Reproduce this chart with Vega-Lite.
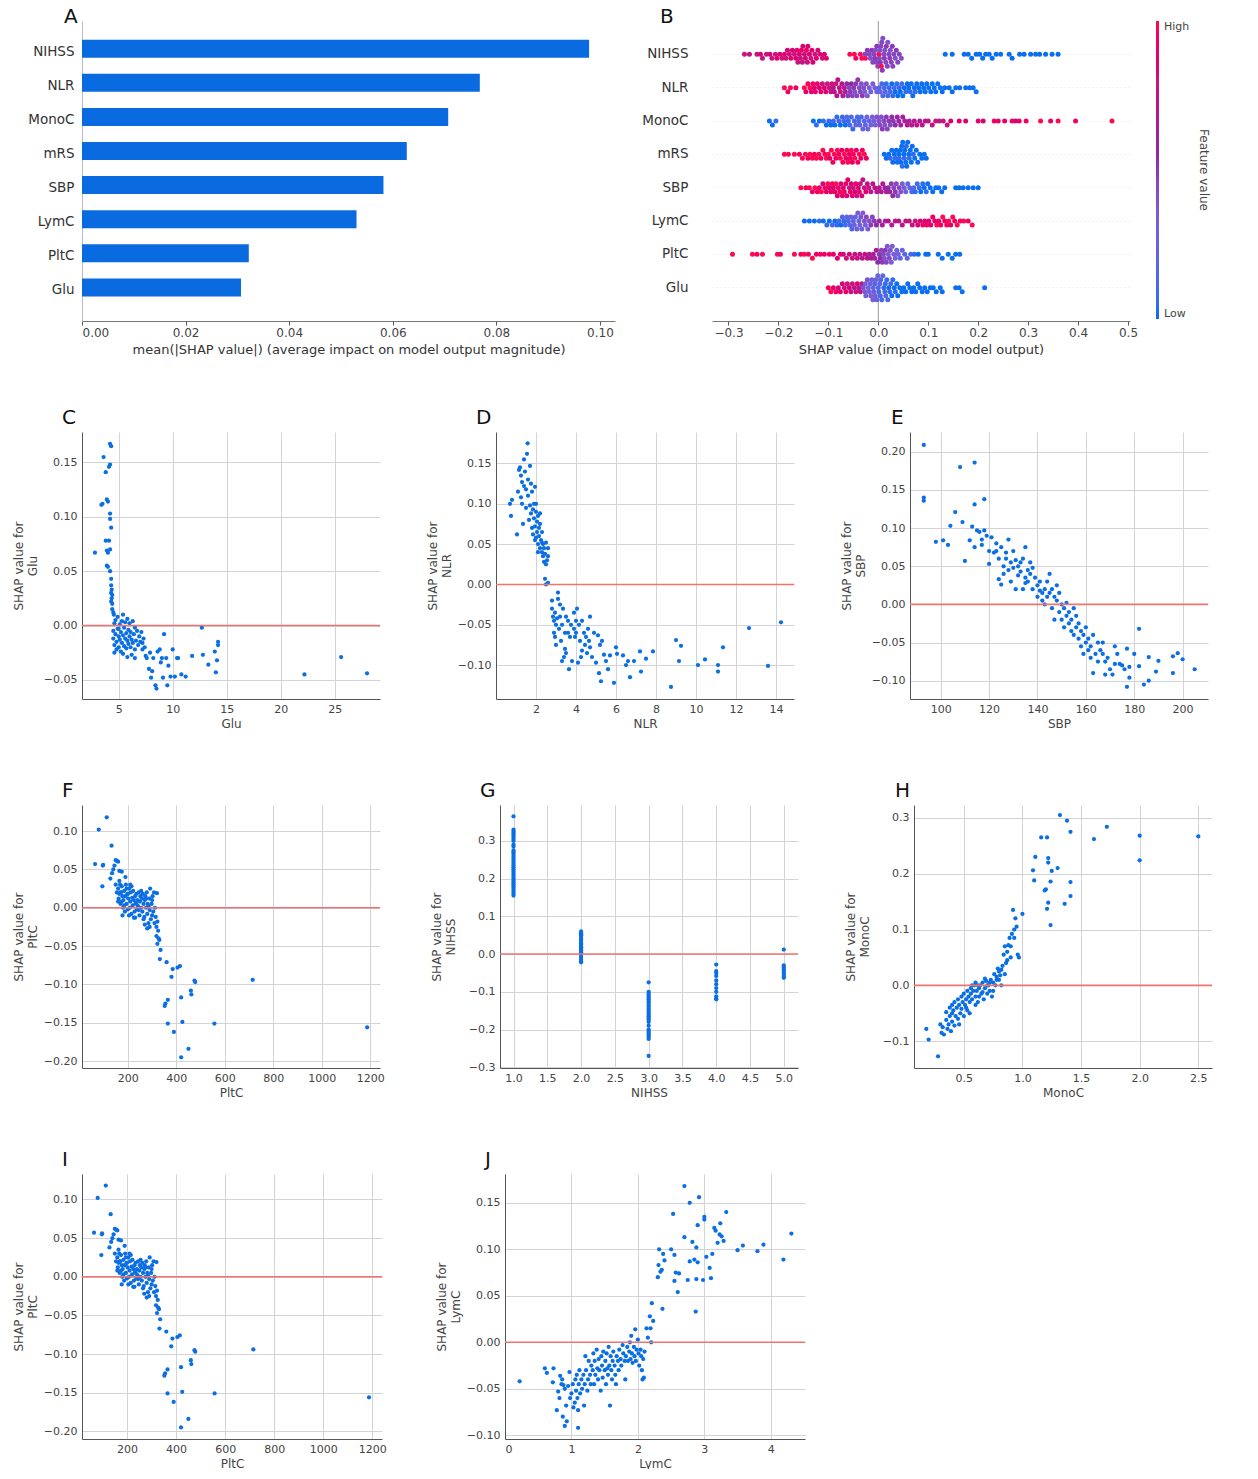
{
"$schema": "https://vega.github.io/schema/vega-lite/v6.json",
"background": "white",
"padding": {"left": 12, "top": 6, "right": 0, "bottom": 0},
"config": {
  "font": "DejaVu Sans",
  "view": {"stroke": null},
  "axis": {"labelFont": "DejaVu Sans", "titleFont": "DejaVu Sans", "labelColor": "#444", "titleColor": "#444", "titleFontWeight": "normal", "labelFontSize": 11, "titleFontSize": 12, "domainColor": "#555", "tickColor": "#555", "gridColor": "#d2d2da", "gridWidth": 1, "ticks": false, "labelPadding": 4, "titlePadding": 4},
  "title": {"fontSize": 20, "fontWeight": "normal", "color": "#111", "anchor": "start", "frame": "group", "font": "DejaVu Sans"},
  "legend": {"labelFont": "DejaVu Sans", "titleFont": "DejaVu Sans"}
},
"datasets": {
  "bars": [
    {"feature": "NIHSS", "value": 0.0979}, {"feature": "NLR", "value": 0.0768}, {"feature": "MonoC", "value": 0.0707}, {"feature": "mRS", "value": 0.0627},
    {"feature": "SBP", "value": 0.0582}, {"feature": "LymC", "value": 0.053}, {"feature": "PltC", "value": 0.0322}, {"feature": "Glu", "value": 0.0307}
  ],
  "swarm": [
    {"f":"NIHSS","s":-0.268,"v":0.8},{"f":"NIHSS","s":-0.258,"v":0.75},{"f":"NIHSS","s":-0.243,"v":0.8},{"f":"NIHSS","s":-0.236,"v":0.85},{"f":"NIHSS","s":-0.232,"v":0.8},{"f":"NIHSS","s":-0.224,"v":0.8},{"f":"NIHSS","s":-0.217,"v":0.85},{"f":"NIHSS","s":-0.213,"v":0.8},{"f":"NIHSS","s":-0.206,"v":0.8},{"f":"NIHSS","s":-0.203,"v":0.9},{"f":"NIHSS","s":-0.197,"v":0.85},{"f":"NIHSS","s":-0.193,"v":0.8},{"f":"NIHSS","s":-0.188,"v":0.9},{"f":"NIHSS","s":-0.185,"v":0.8},{"f":"NIHSS","s":-0.182,"v":0.85},{"f":"NIHSS","s":-0.178,"v":0.8},{"f":"NIHSS","s":-0.175,"v":0.9},{"f":"NIHSS","s":-0.172,"v":0.85},{"f":"NIHSS","s":-0.168,"v":0.8},{"f":"NIHSS","s":-0.165,"v":0.85},{"f":"NIHSS","s":-0.163,"v":0.9},{"f":"NIHSS","s":-0.161,"v":0.8},{"f":"NIHSS","s":-0.158,"v":0.85},{"f":"NIHSS","s":-0.156,"v":0.8},{"f":"NIHSS","s":-0.154,"v":0.9},{"f":"NIHSS","s":-0.152,"v":0.75},{"f":"NIHSS","s":-0.151,"v":0.85},{"f":"NIHSS","s":-0.148,"v":0.8},{"f":"NIHSS","s":-0.146,"v":0.85},{"f":"NIHSS","s":-0.144,"v":0.9},{"f":"NIHSS","s":-0.142,"v":0.8},{"f":"NIHSS","s":-0.141,"v":0.85},{"f":"NIHSS","s":-0.138,"v":0.85},{"f":"NIHSS","s":-0.135,"v":0.8},{"f":"NIHSS","s":-0.133,"v":0.9},{"f":"NIHSS","s":-0.131,"v":0.85},{"f":"NIHSS","s":-0.127,"v":0.8},{"f":"NIHSS","s":-0.124,"v":0.9},{"f":"NIHSS","s":-0.121,"v":0.85},{"f":"NIHSS","s":-0.117,"v":0.85},{"f":"NIHSS","s":-0.112,"v":0.8},{"f":"NIHSS","s":-0.108,"v":0.85},{"f":"NIHSS","s":-0.104,"v":0.9},
    {"f":"NIHSS","s":-0.057,"v":1},{"f":"NIHSS","s":-0.048,"v":1},{"f":"NIHSS","s":-0.045,"v":0.95},{"f":"NIHSS","s":-0.036,"v":1},{"f":"NIHSS","s":-0.033,"v":1},{"f":"NIHSS","s":-0.026,"v":1},
    {"f":"NIHSS","s":-0.027,"v":0.45},{"f":"NIHSS","s":-0.022,"v":0.5},{"f":"NIHSS","s":-0.018,"v":0.45},{"f":"NIHSS","s":-0.016,"v":0.4},{"f":"NIHSS","s":-0.013,"v":0.5},{"f":"NIHSS","s":-0.011,"v":0.45},{"f":"NIHSS","s":-0.009,"v":0.45},{"f":"NIHSS","s":-0.007,"v":0.5},{"f":"NIHSS","s":-0.006,"v":0.4},{"f":"NIHSS","s":-0.004,"v":0.45},{"f":"NIHSS","s":-0.003,"v":0.5},{"f":"NIHSS","s":-0.001,"v":0.45},{"f":"NIHSS","s":0.001,"v":1},{"f":"NIHSS","s":0.002,"v":0.45},{"f":"NIHSS","s":0.003,"v":0.4},{"f":"NIHSS","s":0.004,"v":0.5},{"f":"NIHSS","s":0.005,"v":0.45},{"f":"NIHSS","s":0.006,"v":1},{"f":"NIHSS","s":0.007,"v":0.45},{"f":"NIHSS","s":0.008,"v":0.5},{"f":"NIHSS","s":0.009,"v":0.4},{"f":"NIHSS","s":0.011,"v":0.45},{"f":"NIHSS","s":0.012,"v":0.5},{"f":"NIHSS","s":0.013,"v":0.4},{"f":"NIHSS","s":0.015,"v":0.45},{"f":"NIHSS","s":0.016,"v":0.5},{"f":"NIHSS","s":0.018,"v":0.45},{"f":"NIHSS","s":0.019,"v":0.4},{"f":"NIHSS","s":0.021,"v":0.45},{"f":"NIHSS","s":0.023,"v":0.5},{"f":"NIHSS","s":0.024,"v":0.4},{"f":"NIHSS","s":0.026,"v":0.45},{"f":"NIHSS","s":0.028,"v":0.5},{"f":"NIHSS","s":0.029,"v":0.45},{"f":"NIHSS","s":0.031,"v":0.45},{"f":"NIHSS","s":0.034,"v":0.4},{"f":"NIHSS","s":0.036,"v":0.5},{"f":"NIHSS","s":0.039,"v":0.45},{"f":"NIHSS","s":0.042,"v":0.45},{"f":"NIHSS","s":0.046,"v":0.4},
    {"f":"NIHSS","s":0.134,"v":0},{"f":"NIHSS","s":0.148,"v":0},{"f":"NIHSS","s":0.172,"v":0},{"f":"NIHSS","s":0.18,"v":0},{"f":"NIHSS","s":0.187,"v":0},{"f":"NIHSS","s":0.196,"v":0},{"f":"NIHSS","s":0.203,"v":0},{"f":"NIHSS","s":0.209,"v":0},{"f":"NIHSS","s":0.215,"v":0},{"f":"NIHSS","s":0.222,"v":0},{"f":"NIHSS","s":0.228,"v":0},{"f":"NIHSS","s":0.236,"v":0},{"f":"NIHSS","s":0.245,"v":0},{"f":"NIHSS","s":0.262,"v":0},{"f":"NIHSS","s":0.268,"v":0},{"f":"NIHSS","s":0.283,"v":0},{"f":"NIHSS","s":0.292,"v":0},{"f":"NIHSS","s":0.305,"v":0},{"f":"NIHSS","s":0.315,"v":0},{"f":"NIHSS","s":0.323,"v":0},{"f":"NIHSS","s":0.335,"v":0},{"f":"NIHSS","s":0.348,"v":0},{"f":"NIHSS","s":0.36,"v":0},
    {"f":"NLR","s":-0.188,"v":1},{"f":"NLR","s":-0.181,"v":0.95},{"f":"NLR","s":-0.176,"v":1},{"f":"NLR","s":-0.165,"v":0.95},{"f":"NLR","s":-0.148,"v":1},{"f":"NLR","s":-0.145,"v":0.9},{"f":"NLR","s":-0.141,"v":0.95},{"f":"NLR","s":-0.137,"v":1},{"f":"NLR","s":-0.134,"v":0.9},{"f":"NLR","s":-0.131,"v":0.95},{"f":"NLR","s":-0.128,"v":0.85},{"f":"NLR","s":-0.126,"v":0.9},{"f":"NLR","s":-0.122,"v":0.95},{"f":"NLR","s":-0.118,"v":0.85},{"f":"NLR","s":-0.115,"v":0.9},{"f":"NLR","s":-0.112,"v":0.8},{"f":"NLR","s":-0.108,"v":0.85},{"f":"NLR","s":-0.105,"v":0.9},{"f":"NLR","s":-0.102,"v":0.8},
    {"f":"NLR","s":-0.098,"v":0.8},{"f":"NLR","s":-0.095,"v":0.75},{"f":"NLR","s":-0.093,"v":0.8},{"f":"NLR","s":-0.09,"v":0.7},{"f":"NLR","s":-0.088,"v":0.75},{"f":"NLR","s":-0.085,"v":0.8},{"f":"NLR","s":-0.083,"v":0.7},{"f":"NLR","s":-0.081,"v":0.75},{"f":"NLR","s":-0.078,"v":0.7},{"f":"NLR","s":-0.076,"v":0.8},{"f":"NLR","s":-0.073,"v":0.7},{"f":"NLR","s":-0.071,"v":0.65},{"f":"NLR","s":-0.068,"v":0.7},{"f":"NLR","s":-0.066,"v":0.6},
    {"f":"NLR","s":-0.063,"v":0.55},{"f":"NLR","s":-0.061,"v":0.5},{"f":"NLR","s":-0.058,"v":0.45},{"f":"NLR","s":-0.056,"v":0.5},{"f":"NLR","s":-0.054,"v":0.55},{"f":"NLR","s":-0.052,"v":0.45},{"f":"NLR","s":-0.049,"v":0.5},{"f":"NLR","s":-0.047,"v":0.4},{"f":"NLR","s":-0.045,"v":0.5},{"f":"NLR","s":-0.043,"v":0.45},{"f":"NLR","s":-0.041,"v":0.5},{"f":"NLR","s":-0.038,"v":0.4},{"f":"NLR","s":-0.036,"v":0.45},{"f":"NLR","s":-0.034,"v":0.4},{"f":"NLR","s":-0.032,"v":0.5},{"f":"NLR","s":-0.029,"v":0.4},{"f":"NLR","s":-0.027,"v":0.35},{"f":"NLR","s":-0.024,"v":0.4},{"f":"NLR","s":-0.022,"v":0.35},{"f":"NLR","s":-0.018,"v":0.35},{"f":"NLR","s":-0.015,"v":0.3},{"f":"NLR","s":-0.011,"v":0.3},{"f":"NLR","s":-0.007,"v":0.3},{"f":"NLR","s":-0.003,"v":0.25},
    {"f":"NLR","s":0.002,"v":0.15},{"f":"NLR","s":0.004,"v":0.2},{"f":"NLR","s":0.007,"v":0.1},{"f":"NLR","s":0.009,"v":0.15},{"f":"NLR","s":0.012,"v":0.1},{"f":"NLR","s":0.014,"v":0.15},{"f":"NLR","s":0.016,"v":0.05},{"f":"NLR","s":0.019,"v":0.1},{"f":"NLR","s":0.022,"v":0.05},{"f":"NLR","s":0.024,"v":0.1},{"f":"NLR","s":0.027,"v":0},{"f":"NLR","s":0.029,"v":0.05},{"f":"NLR","s":0.032,"v":0.1},{"f":"NLR","s":0.034,"v":0},{"f":"NLR","s":0.037,"v":0.05},{"f":"NLR","s":0.039,"v":0},{"f":"NLR","s":0.042,"v":0.05},{"f":"NLR","s":0.044,"v":0},{"f":"NLR","s":0.047,"v":0.1},{"f":"NLR","s":0.049,"v":0},{"f":"NLR","s":0.052,"v":0},{"f":"NLR","s":0.055,"v":0.05},{"f":"NLR","s":0.058,"v":0},{"f":"NLR","s":0.061,"v":0},{"f":"NLR","s":0.064,"v":0.05},{"f":"NLR","s":0.066,"v":0},{"f":"NLR","s":0.069,"v":0},{"f":"NLR","s":0.072,"v":0},{"f":"NLR","s":0.074,"v":0.05},{"f":"NLR","s":0.077,"v":0},{"f":"NLR","s":0.081,"v":0},{"f":"NLR","s":0.084,"v":0},{"f":"NLR","s":0.087,"v":0},{"f":"NLR","s":0.091,"v":0},{"f":"NLR","s":0.094,"v":0},{"f":"NLR","s":0.097,"v":0},{"f":"NLR","s":0.101,"v":0},{"f":"NLR","s":0.105,"v":0},{"f":"NLR","s":0.108,"v":0},{"f":"NLR","s":0.112,"v":0},{"f":"NLR","s":0.115,"v":0},{"f":"NLR","s":0.119,"v":0},{"f":"NLR","s":0.124,"v":0},{"f":"NLR","s":0.128,"v":0},{"f":"NLR","s":0.133,"v":0},{"f":"NLR","s":0.142,"v":0},{"f":"NLR","s":0.148,"v":0},{"f":"NLR","s":0.155,"v":0},{"f":"NLR","s":0.163,"v":0},{"f":"NLR","s":0.175,"v":0},{"f":"NLR","s":0.183,"v":0},{"f":"NLR","s":0.19,"v":0},{"f":"NLR","s":0.196,"v":0},
    {"f":"MonoC","s":-0.218,"v":0},{"f":"MonoC","s":-0.212,"v":0},{"f":"MonoC","s":-0.205,"v":0.05},{"f":"MonoC","s":-0.13,"v":0},{"f":"MonoC","s":-0.124,"v":0.05},{"f":"MonoC","s":-0.118,"v":0},{"f":"MonoC","s":-0.11,"v":0.05},{"f":"MonoC","s":-0.104,"v":0},{"f":"MonoC","s":-0.099,"v":0.05},{"f":"MonoC","s":-0.095,"v":0},{"f":"MonoC","s":-0.09,"v":0.1},{"f":"MonoC","s":-0.087,"v":0},{"f":"MonoC","s":-0.083,"v":0.05},{"f":"MonoC","s":-0.079,"v":0.1},{"f":"MonoC","s":-0.076,"v":0},{"f":"MonoC","s":-0.072,"v":0.05},{"f":"MonoC","s":-0.069,"v":0.1},{"f":"MonoC","s":-0.066,"v":0},{"f":"MonoC","s":-0.063,"v":0.15},{"f":"MonoC","s":-0.06,"v":0.05},{"f":"MonoC","s":-0.057,"v":0.1},{"f":"MonoC","s":-0.054,"v":0.15},{"f":"MonoC","s":-0.051,"v":0.05},{"f":"MonoC","s":-0.048,"v":0.1},{"f":"MonoC","s":-0.045,"v":0.2},{"f":"MonoC","s":-0.042,"v":0.1},{"f":"MonoC","s":-0.039,"v":0.15},{"f":"MonoC","s":-0.037,"v":0.2},{"f":"MonoC","s":-0.034,"v":0.1},{"f":"MonoC","s":-0.031,"v":0.25},{"f":"MonoC","s":-0.028,"v":0.15},{"f":"MonoC","s":-0.026,"v":0.2},{"f":"MonoC","s":-0.023,"v":0.3},{"f":"MonoC","s":-0.021,"v":0.25},{"f":"MonoC","s":-0.018,"v":0.2},{"f":"MonoC","s":-0.015,"v":0.3},{"f":"MonoC","s":-0.012,"v":0.25},{"f":"MonoC","s":-0.009,"v":0.35},{"f":"MonoC","s":-0.006,"v":0.3},{"f":"MonoC","s":-0.003,"v":0.4},
    {"f":"MonoC","s":0.001,"v":0.4},{"f":"MonoC","s":0.003,"v":0.45},{"f":"MonoC","s":0.006,"v":0.4},{"f":"MonoC","s":0.008,"v":0.5},{"f":"MonoC","s":0.011,"v":0.45},{"f":"MonoC","s":0.013,"v":0.4},{"f":"MonoC","s":0.016,"v":0.5},{"f":"MonoC","s":0.018,"v":0.45},{"f":"MonoC","s":0.021,"v":0.5},{"f":"MonoC","s":0.024,"v":0.45},{"f":"MonoC","s":0.027,"v":0.55},{"f":"MonoC","s":0.03,"v":0.5},{"f":"MonoC","s":0.034,"v":0.55},{"f":"MonoC","s":0.038,"v":0.6},{"f":"MonoC","s":0.041,"v":0.55},{"f":"MonoC","s":0.045,"v":0.6},{"f":"MonoC","s":0.049,"v":0.65},
    {"f":"MonoC","s":0.053,"v":0.65},{"f":"MonoC","s":0.058,"v":0.7},{"f":"MonoC","s":0.062,"v":0.65},{"f":"MonoC","s":0.067,"v":0.7},{"f":"MonoC","s":0.072,"v":0.7},{"f":"MonoC","s":0.077,"v":0.75},{"f":"MonoC","s":0.083,"v":0.7},{"f":"MonoC","s":0.088,"v":0.75},{"f":"MonoC","s":0.094,"v":0.7},{"f":"MonoC","s":0.1,"v":0.75},{"f":"MonoC","s":0.108,"v":0.75},{"f":"MonoC","s":0.115,"v":0.8},{"f":"MonoC","s":0.122,"v":0.75},{"f":"MonoC","s":0.13,"v":0.8},{"f":"MonoC","s":0.138,"v":0.8},{"f":"MonoC","s":0.145,"v":0.85},
    {"f":"MonoC","s":0.162,"v":0.9},{"f":"MonoC","s":0.175,"v":0.85},{"f":"MonoC","s":0.2,"v":0.9},{"f":"MonoC","s":0.21,"v":0.85},{"f":"MonoC","s":0.232,"v":0.95},{"f":"MonoC","s":0.24,"v":0.9},{"f":"MonoC","s":0.253,"v":0.9},{"f":"MonoC","s":0.268,"v":0.95},{"f":"MonoC","s":0.275,"v":0.85},{"f":"MonoC","s":0.282,"v":0.9},{"f":"MonoC","s":0.296,"v":0.95},{"f":"MonoC","s":0.325,"v":1},{"f":"MonoC","s":0.345,"v":0.9},{"f":"MonoC","s":0.36,"v":1},{"f":"MonoC","s":0.395,"v":0.95},{"f":"MonoC","s":0.468,"v":1},
    {"f":"mRS","s":-0.188,"v":1},{"f":"mRS","s":-0.18,"v":1},{"f":"mRS","s":-0.168,"v":1},{"f":"mRS","s":-0.158,"v":0.95},{"f":"mRS","s":-0.152,"v":1},{"f":"mRS","s":-0.146,"v":1},{"f":"mRS","s":-0.141,"v":0.95},{"f":"mRS","s":-0.137,"v":1},{"f":"mRS","s":-0.132,"v":1},{"f":"mRS","s":-0.128,"v":0.95},{"f":"mRS","s":-0.124,"v":1},{"f":"mRS","s":-0.119,"v":1},{"f":"mRS","s":-0.115,"v":0.95},{"f":"mRS","s":-0.111,"v":1},{"f":"mRS","s":-0.107,"v":0.95},{"f":"mRS","s":-0.104,"v":1},{"f":"mRS","s":-0.1,"v":1},{"f":"mRS","s":-0.097,"v":0.9},{"f":"mRS","s":-0.094,"v":1},{"f":"mRS","s":-0.091,"v":0.95},{"f":"mRS","s":-0.088,"v":1},{"f":"mRS","s":-0.085,"v":0.9},{"f":"mRS","s":-0.082,"v":1},{"f":"mRS","s":-0.079,"v":0.95},{"f":"mRS","s":-0.076,"v":1},{"f":"mRS","s":-0.073,"v":0.9},{"f":"mRS","s":-0.071,"v":0.95},{"f":"mRS","s":-0.068,"v":1},{"f":"mRS","s":-0.065,"v":0.9},{"f":"mRS","s":-0.063,"v":0.95},{"f":"mRS","s":-0.061,"v":1},{"f":"mRS","s":-0.058,"v":0.9},{"f":"mRS","s":-0.056,"v":0.95},{"f":"mRS","s":-0.054,"v":1},{"f":"mRS","s":-0.052,"v":0.9},{"f":"mRS","s":-0.05,"v":0.95},{"f":"mRS","s":-0.047,"v":1},{"f":"mRS","s":-0.044,"v":0.9},{"f":"mRS","s":-0.041,"v":0.95},{"f":"mRS","s":-0.038,"v":1},{"f":"mRS","s":-0.035,"v":0.9},{"f":"mRS","s":-0.032,"v":0.95},{"f":"mRS","s":-0.028,"v":1},{"f":"mRS","s":-0.024,"v":0.9},
    {"f":"mRS","s":0.012,"v":0},{"f":"mRS","s":0.016,"v":0},{"f":"mRS","s":0.021,"v":0},{"f":"mRS","s":0.024,"v":0.05},{"f":"mRS","s":0.027,"v":0},{"f":"mRS","s":0.029,"v":0},{"f":"mRS","s":0.032,"v":0},{"f":"mRS","s":0.034,"v":0.05},{"f":"mRS","s":0.036,"v":0},{"f":"mRS","s":0.038,"v":0},{"f":"mRS","s":0.041,"v":0},{"f":"mRS","s":0.042,"v":0.05},{"f":"mRS","s":0.044,"v":0},{"f":"mRS","s":0.045,"v":0},{"f":"mRS","s":0.047,"v":0},{"f":"mRS","s":0.048,"v":0.05},{"f":"mRS","s":0.049,"v":0},{"f":"mRS","s":0.051,"v":0},{"f":"mRS","s":0.052,"v":0.05},{"f":"mRS","s":0.053,"v":0},{"f":"mRS","s":0.055,"v":0},{"f":"mRS","s":0.056,"v":0.05},{"f":"mRS","s":0.057,"v":0},{"f":"mRS","s":0.059,"v":0},{"f":"mRS","s":0.061,"v":0},{"f":"mRS","s":0.062,"v":0.05},{"f":"mRS","s":0.064,"v":0},{"f":"mRS","s":0.066,"v":0},{"f":"mRS","s":0.068,"v":0},{"f":"mRS","s":0.07,"v":0.05},{"f":"mRS","s":0.073,"v":0},{"f":"mRS","s":0.076,"v":0},{"f":"mRS","s":0.079,"v":0},{"f":"mRS","s":0.083,"v":0},{"f":"mRS","s":0.087,"v":0},{"f":"mRS","s":0.092,"v":0},{"f":"mRS","s":0.096,"v":0},
    {"f":"SBP","s":-0.155,"v":1},{"f":"SBP","s":-0.145,"v":0.95},{"f":"SBP","s":-0.138,"v":1},{"f":"SBP","s":-0.132,"v":0.9},{"f":"SBP","s":-0.127,"v":1},{"f":"SBP","s":-0.122,"v":0.95},{"f":"SBP","s":-0.118,"v":0.9},{"f":"SBP","s":-0.114,"v":1},{"f":"SBP","s":-0.111,"v":0.85},{"f":"SBP","s":-0.107,"v":0.95},{"f":"SBP","s":-0.104,"v":0.9},{"f":"SBP","s":-0.101,"v":1},{"f":"SBP","s":-0.098,"v":0.85},{"f":"SBP","s":-0.095,"v":0.9},{"f":"SBP","s":-0.092,"v":0.95},{"f":"SBP","s":-0.09,"v":0.85},{"f":"SBP","s":-0.087,"v":0.9},{"f":"SBP","s":-0.085,"v":1},{"f":"SBP","s":-0.082,"v":0.85},{"f":"SBP","s":-0.08,"v":0.9},{"f":"SBP","s":-0.077,"v":0.95},{"f":"SBP","s":-0.075,"v":0.85},{"f":"SBP","s":-0.072,"v":0.9},{"f":"SBP","s":-0.07,"v":0.85},{"f":"SBP","s":-0.068,"v":0.95},{"f":"SBP","s":-0.065,"v":0.9},{"f":"SBP","s":-0.063,"v":0.85},{"f":"SBP","s":-0.061,"v":0.9},{"f":"SBP","s":-0.058,"v":0.8},{"f":"SBP","s":-0.056,"v":0.9},{"f":"SBP","s":-0.054,"v":0.85},{"f":"SBP","s":-0.052,"v":0.9},{"f":"SBP","s":-0.05,"v":0.8},{"f":"SBP","s":-0.047,"v":0.85},{"f":"SBP","s":-0.045,"v":0.9},{"f":"SBP","s":-0.043,"v":0.8},{"f":"SBP","s":-0.04,"v":0.85},{"f":"SBP","s":-0.038,"v":0.9},{"f":"SBP","s":-0.036,"v":0.8},{"f":"SBP","s":-0.033,"v":0.85},{"f":"SBP","s":-0.031,"v":0.75},{"f":"SBP","s":-0.028,"v":0.8},{"f":"SBP","s":-0.025,"v":0.85},{"f":"SBP","s":-0.022,"v":0.75},{"f":"SBP","s":-0.019,"v":0.8},{"f":"SBP","s":-0.015,"v":0.75},{"f":"SBP","s":-0.011,"v":0.7},{"f":"SBP","s":-0.007,"v":0.75},{"f":"SBP","s":-0.003,"v":0.7},
    {"f":"SBP","s":0.002,"v":0.7},{"f":"SBP","s":0.006,"v":0.65},{"f":"SBP","s":0.009,"v":0.7},{"f":"SBP","s":0.013,"v":0.6},{"f":"SBP","s":0.016,"v":0.65},{"f":"SBP","s":0.02,"v":0.55},{"f":"SBP","s":0.023,"v":0.6},{"f":"SBP","s":0.026,"v":0.5},{"f":"SBP","s":0.029,"v":0.55},{"f":"SBP","s":0.031,"v":0.45},{"f":"SBP","s":0.034,"v":0.5},{"f":"SBP","s":0.036,"v":0.45},{"f":"SBP","s":0.039,"v":0.4},{"f":"SBP","s":0.042,"v":0.45},{"f":"SBP","s":0.045,"v":0.4},{"f":"SBP","s":0.048,"v":0.35},{"f":"SBP","s":0.052,"v":0.3},{"f":"SBP","s":0.055,"v":0.35},
    {"f":"SBP","s":0.059,"v":0.2},{"f":"SBP","s":0.063,"v":0.15},{"f":"SBP","s":0.067,"v":0.1},{"f":"SBP","s":0.071,"v":0.15},{"f":"SBP","s":0.074,"v":0.05},{"f":"SBP","s":0.078,"v":0.1},{"f":"SBP","s":0.082,"v":0.05},{"f":"SBP","s":0.085,"v":0},{"f":"SBP","s":0.089,"v":0.05},{"f":"SBP","s":0.092,"v":0},{"f":"SBP","s":0.096,"v":0.05},{"f":"SBP","s":0.099,"v":0},{"f":"SBP","s":0.104,"v":0},{"f":"SBP","s":0.109,"v":0},{"f":"SBP","s":0.115,"v":0},{"f":"SBP","s":0.121,"v":0},{"f":"SBP","s":0.127,"v":0},{"f":"SBP","s":0.133,"v":0},{"f":"SBP","s":0.155,"v":0},{"f":"SBP","s":0.162,"v":0},{"f":"SBP","s":0.17,"v":0},{"f":"SBP","s":0.18,"v":0},{"f":"SBP","s":0.19,"v":0},{"f":"SBP","s":0.2,"v":0},
    {"f":"LymC","s":-0.148,"v":0},{"f":"LymC","s":-0.138,"v":0},{"f":"LymC","s":-0.128,"v":0},{"f":"LymC","s":-0.118,"v":0.05},{"f":"LymC","s":-0.11,"v":0},{"f":"LymC","s":-0.103,"v":0.05},{"f":"LymC","s":-0.098,"v":0},{"f":"LymC","s":-0.092,"v":0.1},{"f":"LymC","s":-0.087,"v":0},{"f":"LymC","s":-0.083,"v":0.05},{"f":"LymC","s":-0.079,"v":0.1},{"f":"LymC","s":-0.075,"v":0},{"f":"LymC","s":-0.072,"v":0.15},{"f":"LymC","s":-0.069,"v":0.05},{"f":"LymC","s":-0.066,"v":0.1},{"f":"LymC","s":-0.063,"v":0.2},{"f":"LymC","s":-0.06,"v":0.1},{"f":"LymC","s":-0.057,"v":0.15},{"f":"LymC","s":-0.055,"v":0.25},{"f":"LymC","s":-0.053,"v":0.1},{"f":"LymC","s":-0.05,"v":0.2},{"f":"LymC","s":-0.048,"v":0.3},{"f":"LymC","s":-0.046,"v":0.15},{"f":"LymC","s":-0.043,"v":0.25},{"f":"LymC","s":-0.041,"v":0.35},{"f":"LymC","s":-0.039,"v":0.2},{"f":"LymC","s":-0.037,"v":0.3},{"f":"LymC","s":-0.035,"v":0.4},{"f":"LymC","s":-0.033,"v":0.25},{"f":"LymC","s":-0.031,"v":0.35},{"f":"LymC","s":-0.028,"v":0.4},{"f":"LymC","s":-0.026,"v":0.3},{"f":"LymC","s":-0.024,"v":0.45},{"f":"LymC","s":-0.021,"v":0.35},{"f":"LymC","s":-0.018,"v":0.4},{"f":"LymC","s":-0.015,"v":0.5},{"f":"LymC","s":-0.012,"v":0.45},{"f":"LymC","s":-0.008,"v":0.5},{"f":"LymC","s":-0.004,"v":0.55},
    {"f":"LymC","s":0.002,"v":0.6},{"f":"LymC","s":0.008,"v":0.65},{"f":"LymC","s":0.014,"v":0.6},{"f":"LymC","s":0.02,"v":0.7},{"f":"LymC","s":0.027,"v":0.65},{"f":"LymC","s":0.034,"v":0.7},{"f":"LymC","s":0.041,"v":0.75},{"f":"LymC","s":0.048,"v":0.7},{"f":"LymC","s":0.055,"v":0.75},{"f":"LymC","s":0.062,"v":0.8},{"f":"LymC","s":0.068,"v":0.75},{"f":"LymC","s":0.074,"v":0.8},{"f":"LymC","s":0.079,"v":0.85},
    {"f":"LymC","s":0.084,"v":0.85},{"f":"LymC","s":0.089,"v":0.9},{"f":"LymC","s":0.093,"v":0.85},{"f":"LymC","s":0.097,"v":0.95},{"f":"LymC","s":0.101,"v":0.9},{"f":"LymC","s":0.105,"v":0.85},{"f":"LymC","s":0.109,"v":0.95},{"f":"LymC","s":0.113,"v":0.9},{"f":"LymC","s":0.117,"v":1},{"f":"LymC","s":0.121,"v":0.9},{"f":"LymC","s":0.125,"v":0.95},{"f":"LymC","s":0.129,"v":1},{"f":"LymC","s":0.133,"v":0.9},{"f":"LymC","s":0.137,"v":0.95},{"f":"LymC","s":0.141,"v":1},{"f":"LymC","s":0.145,"v":0.9},{"f":"LymC","s":0.149,"v":1},{"f":"LymC","s":0.153,"v":0.95},{"f":"LymC","s":0.158,"v":1},{"f":"LymC","s":0.164,"v":0.95},{"f":"LymC","s":0.171,"v":1},{"f":"LymC","s":0.18,"v":0.95},{"f":"LymC","s":0.188,"v":1},
    {"f":"PltC","s":-0.292,"v":1},{"f":"PltC","s":-0.252,"v":1},{"f":"PltC","s":-0.243,"v":0.95},{"f":"PltC","s":-0.232,"v":1},{"f":"PltC","s":-0.202,"v":1},{"f":"PltC","s":-0.196,"v":0.95},{"f":"PltC","s":-0.168,"v":1},{"f":"PltC","s":-0.155,"v":0.95},{"f":"PltC","s":-0.148,"v":1},{"f":"PltC","s":-0.14,"v":0.95},{"f":"PltC","s":-0.132,"v":1},{"f":"PltC","s":-0.124,"v":0.9},{"f":"PltC","s":-0.116,"v":0.95},{"f":"PltC","s":-0.108,"v":0.9},{"f":"PltC","s":-0.098,"v":0.95},{"f":"PltC","s":-0.09,"v":0.9},{"f":"PltC","s":-0.082,"v":0.85},{"f":"PltC","s":-0.076,"v":0.9},{"f":"PltC","s":-0.07,"v":0.85},{"f":"PltC","s":-0.064,"v":0.8},{"f":"PltC","s":-0.058,"v":0.85},{"f":"PltC","s":-0.052,"v":0.8},{"f":"PltC","s":-0.047,"v":0.75},{"f":"PltC","s":-0.042,"v":0.8},{"f":"PltC","s":-0.037,"v":0.75},{"f":"PltC","s":-0.032,"v":0.7},{"f":"PltC","s":-0.027,"v":0.75},{"f":"PltC","s":-0.022,"v":0.7},{"f":"PltC","s":-0.018,"v":0.65},{"f":"PltC","s":-0.014,"v":0.7},{"f":"PltC","s":-0.01,"v":0.65},{"f":"PltC","s":-0.007,"v":0.6},{"f":"PltC","s":-0.004,"v":0.65},
    {"f":"PltC","s":-0.001,"v":0.55},{"f":"PltC","s":0.002,"v":0.5},{"f":"PltC","s":0.004,"v":0.55},{"f":"PltC","s":0.006,"v":0.45},{"f":"PltC","s":0.008,"v":0.5},{"f":"PltC","s":0.01,"v":0.45},{"f":"PltC","s":0.012,"v":0.4},{"f":"PltC","s":0.014,"v":0.5},{"f":"PltC","s":0.016,"v":0.45},{"f":"PltC","s":0.018,"v":0.4},{"f":"PltC","s":0.02,"v":0.35},{"f":"PltC","s":0.022,"v":0.45},{"f":"PltC","s":0.024,"v":0.4},{"f":"PltC","s":0.026,"v":0.35},{"f":"PltC","s":0.028,"v":0.3},{"f":"PltC","s":0.031,"v":0.35},{"f":"PltC","s":0.034,"v":0.3},{"f":"PltC","s":0.037,"v":0.25},{"f":"PltC","s":0.04,"v":0.3},{"f":"PltC","s":0.044,"v":0.2},{"f":"PltC","s":0.048,"v":0.25},{"f":"PltC","s":0.053,"v":0.15},{"f":"PltC","s":0.058,"v":0.2},
    {"f":"PltC","s":0.065,"v":0.1},{"f":"PltC","s":0.072,"v":0.05},{"f":"PltC","s":0.08,"v":0},{"f":"PltC","s":0.095,"v":0},{"f":"PltC","s":0.1,"v":0},{"f":"PltC","s":0.12,"v":0},{"f":"PltC","s":0.128,"v":0},{"f":"PltC","s":0.14,"v":0},{"f":"PltC","s":0.148,"v":0},{"f":"PltC","s":0.155,"v":0},{"f":"PltC","s":0.163,"v":0},
    {"f":"Glu","s":-0.1,"v":0.95},{"f":"Glu","s":-0.095,"v":1},{"f":"Glu","s":-0.09,"v":0.9},{"f":"Glu","s":-0.085,"v":0.95},{"f":"Glu","s":-0.08,"v":0.85},{"f":"Glu","s":-0.076,"v":0.9},{"f":"Glu","s":-0.072,"v":0.85},{"f":"Glu","s":-0.068,"v":0.8},{"f":"Glu","s":-0.065,"v":0.9},{"f":"Glu","s":-0.062,"v":0.8},{"f":"Glu","s":-0.058,"v":0.85},{"f":"Glu","s":-0.055,"v":0.75},{"f":"Glu","s":-0.052,"v":0.8},{"f":"Glu","s":-0.048,"v":0.7},{"f":"Glu","s":-0.045,"v":0.8},{"f":"Glu","s":-0.042,"v":0.9},{"f":"Glu","s":-0.039,"v":0.7},{"f":"Glu","s":-0.036,"v":0.75},{"f":"Glu","s":-0.033,"v":0.65},
    {"f":"Glu","s":-0.03,"v":0.4},{"f":"Glu","s":-0.027,"v":0.35},{"f":"Glu","s":-0.025,"v":0.3},{"f":"Glu","s":-0.022,"v":0.4},{"f":"Glu","s":-0.02,"v":0.25},{"f":"Glu","s":-0.018,"v":0.3},{"f":"Glu","s":-0.015,"v":0.35},{"f":"Glu","s":-0.013,"v":0.2},{"f":"Glu","s":-0.011,"v":0.3},{"f":"Glu","s":-0.009,"v":0.25},{"f":"Glu","s":-0.007,"v":0.15},{"f":"Glu","s":-0.005,"v":0.3},{"f":"Glu","s":-0.003,"v":0.2},{"f":"Glu","s":-0.001,"v":0.25},{"f":"Glu","s":0.001,"v":0.1},{"f":"Glu","s":0.003,"v":0.2},{"f":"Glu","s":0.005,"v":0.15},{"f":"Glu","s":0.007,"v":0.1},{"f":"Glu","s":0.009,"v":0.2},{"f":"Glu","s":0.011,"v":0.05},{"f":"Glu","s":0.013,"v":0.1},{"f":"Glu","s":0.015,"v":0.15},{"f":"Glu","s":0.017,"v":0.05},{"f":"Glu","s":0.019,"v":0.1},{"f":"Glu","s":0.021,"v":0},{"f":"Glu","s":0.023,"v":0.05},{"f":"Glu","s":0.025,"v":0.1},{"f":"Glu","s":0.027,"v":0},{"f":"Glu","s":0.029,"v":0.05},{"f":"Glu","s":0.032,"v":0},{"f":"Glu","s":0.034,"v":0.05},{"f":"Glu","s":0.037,"v":0},{"f":"Glu","s":0.039,"v":0},{"f":"Glu","s":-0.006,"v":0.35},{"f":"Glu","s":-0.016,"v":0.25},{"f":"Glu","s":0.004,"v":0.1},{"f":"Glu","s":-0.026,"v":0.3},{"f":"Glu","s":0.014,"v":0.05},{"f":"Glu","s":-0.01,"v":0.2},{"f":"Glu","s":0.0,"v":0.15},
    {"f":"Glu","s":0.043,"v":0},{"f":"Glu","s":0.047,"v":0},{"f":"Glu","s":0.051,"v":0},{"f":"Glu","s":0.055,"v":0},{"f":"Glu","s":0.059,"v":0},{"f":"Glu","s":0.063,"v":0},{"f":"Glu","s":0.067,"v":0},{"f":"Glu","s":0.071,"v":0},{"f":"Glu","s":0.075,"v":0},{"f":"Glu","s":0.079,"v":0},{"f":"Glu","s":0.083,"v":0},{"f":"Glu","s":0.088,"v":0},{"f":"Glu","s":0.093,"v":0},{"f":"Glu","s":0.098,"v":0},{"f":"Glu","s":0.104,"v":0},{"f":"Glu","s":0.11,"v":0},{"f":"Glu","s":0.116,"v":0},{"f":"Glu","s":0.124,"v":0},{"f":"Glu","s":0.128,"v":0},{"f":"Glu","s":0.155,"v":0},{"f":"Glu","s":0.162,"v":0},{"f":"Glu","s":0.168,"v":0},{"f":"Glu","s":0.213,"v":0}
  ],
  "glu": [
    {"x":2.8,"y":0.067},{"x":3.6,"y":0.155},{"x":3.8,"y":0.141},{"x":3.9,"y":0.116},{"x":4.0,"y":0.114},{"x":4.1,"y":0.146},{"x":4.2,"y":0.148},{"x":4.2,"y":0.167},{"x":4.3,"y":0.165},{"x":3.4,"y":0.111},{"x":3.5,"y":0.112},
    {"x":3.8,"y":0.078},{"x":3.9,"y":0.069},{"x":4.0,"y":0.067},{"x":4.1,"y":0.078},{"x":4.2,"y":0.07},{"x":4.3,"y":0.09},{"x":4.2,"y":0.103},{"x":4.2,"y":0.098},{"x":3.9,"y":0.055},{"x":4.0,"y":0.054},{"x":4.2,"y":0.05},
    {"x":4.3,"y":0.043},{"x":4.3,"y":0.037},{"x":4.35,"y":0.033},{"x":4.3,"y":0.03},{"x":4.4,"y":0.028},{"x":4.35,"y":0.025},{"x":4.3,"y":0.022},{"x":4.4,"y":0.02},{"x":4.4,"y":0.015},{"x":4.5,"y":0.012},
    {"x":4.5,"y":-0.005},{"x":4.5,"y":-0.012},{"x":4.6,"y":0.002},{"x":4.6,"y":-0.018},{"x":4.7,"y":-0.008},{"x":4.7,"y":0.005},{"x":4.8,"y":-0.015},{"x":4.8,"y":-0.022},{"x":4.9,"y":-0.003},{"x":4.9,"y":0.008},{"x":5.0,"y":-0.01},{"x":5.0,"y":-0.02},{"x":5.1,"y":0.001},{"x":5.1,"y":-0.013},{"x":5.2,"y":-0.006},{"x":5.2,"y":-0.024},{"x":5.3,"y":0.004},{"x":5.3,"y":-0.016},{"x":5.4,"y":-0.009},{"x":5.4,"y":0.01},{"x":5.5,"y":-0.002},{"x":5.5,"y":-0.019},{"x":5.6,"y":-0.012},{"x":5.6,"y":0.003},{"x":5.7,"y":-0.007},{"x":5.7,"y":-0.021},{"x":5.8,"y":-0.014},{"x":5.8,"y":0.006},{"x":5.9,"y":-0.004},{"x":5.9,"y":-0.017},{"x":6.0,"y":-0.01},{"x":6.0,"y":0.002},{"x":6.1,"y":-0.02},{"x":6.1,"y":-0.006},{"x":6.2,"y":-0.013},{"x":6.3,"y":0.004},{"x":6.3,"y":-0.016},{"x":6.4,"y":-0.008},{"x":6.5,"y":-0.022},{"x":6.5,"y":-0.002},{"x":6.6,"y":-0.014},{"x":6.7,"y":-0.005},{"x":6.8,"y":-0.018},{"x":6.9,"y":-0.01},{"x":7.0,"y":-0.015},{"x":7.1,"y":-0.006},{"x":7.2,"y":-0.022},{"x":7.3,"y":-0.012},{"x":4.6,"y":-0.025},{"x":5.0,"y":-0.003},{"x":5.4,"y":-0.026},{"x":4.55,"y":0.01},{"x":6.2,"y":-0.027},{"x":6.5,"y":-0.03},{"x":5.8,"y":-0.029},
    {"x":22.2,"y":-0.045},{"x":25.6,"y":-0.029},{"x":28.0,"y":-0.044},{"x":12.7,"y":-0.002},{"x":13.3,"y":-0.036},{"x":12.8,"y":-0.027},{"x":13.9,"y":-0.024},{"x":14.0,"y":-0.043},{"x":14.1,"y":-0.032},{"x":14.2,"y":-0.015},{"x":14.2,"y":-0.018},{"x":11.2,"y":-0.047},{"x":10.8,"y":-0.045},{"x":10.5,"y":-0.03},{"x":10.0,"y":-0.022},{"x":9.2,"y":-0.008},{"x":9.5,"y":-0.055},{"x":9.1,"y":-0.048},{"x":8.5,"y":-0.058},{"x":8.4,"y":-0.055},{"x":8.0,"y":-0.048},{"x":8.1,"y":-0.042},{"x":7.8,"y":-0.04},{"x":8.6,"y":-0.024},{"x":8.8,"y":-0.022},{"x":9.0,"y":-0.03},{"x":9.4,"y":-0.03},{"x":9.6,"y":-0.037},{"x":9.8,"y":-0.047},{"x":10.2,"y":-0.047},{"x":10.4,"y":-0.03},{"x":11.8,"y":-0.028},{"x":8.2,"y":-0.03},{"x":7.5,"y":-0.028},{"x":7.4,"y":-0.02},{"x":7.2,"y":-0.016},{"x":7.6,"y":-0.03},{"x":7.9,"y":-0.025},{"x":8.9,"y":-0.034}
  ],
  "nlr": [
    {"x":0.7,"y":0.1},{"x":0.75,"y":0.085},{"x":0.8,"y":0.105},{"x":1.05,"y":0.062},{"x":1.1,"y":0.115},{"x":1.15,"y":0.142},{"x":1.2,"y":0.145},{"x":1.25,"y":0.135},{"x":1.3,"y":0.127},{"x":1.3,"y":0.1},{"x":1.35,"y":0.075},{"x":1.4,"y":0.155},{"x":1.45,"y":0.14},{"x":1.5,"y":0.118},{"x":1.5,"y":0.095},{"x":1.55,"y":0.162},{"x":1.58,"y":0.175},{"x":1.6,"y":0.13},{"x":1.6,"y":0.11},{"x":1.65,"y":0.08},{"x":1.7,"y":0.147},{"x":1.7,"y":0.098},{"x":1.75,"y":0.125},{"x":1.75,"y":0.088},{"x":1.8,"y":0.07},{"x":1.8,"y":0.115},{"x":1.85,"y":0.093},{"x":1.85,"y":0.062},{"x":1.9,"y":0.082},{"x":1.9,"y":0.1},{"x":1.95,"y":0.121},{"x":1.95,"y":0.072},{"x":2.0,"y":0.09},{"x":2.0,"y":0.058},{"x":2.05,"y":0.065},{"x":2.05,"y":0.078},{"x":2.1,"y":0.085},{"x":2.1,"y":0.05},{"x":2.15,"y":0.06},{"x":2.15,"y":0.07},{"x":2.2,"y":0.045},{"x":2.2,"y":0.088},{"x":2.25,"y":0.055},{"x":2.3,"y":0.04},{"x":2.3,"y":0.065},{"x":2.35,"y":0.035},{"x":2.35,"y":0.05},{"x":2.4,"y":0.028},{"x":2.4,"y":0.045},{"x":2.45,"y":0.038},{"x":2.5,"y":0.025},{"x":2.5,"y":0.052},{"x":2.55,"y":0.03},{"x":2.6,"y":0.045},{"x":2.6,"y":0.035},{"x":2.2,"y":0.075},{"x":1.95,"y":0.055},{"x":2.1,"y":0.04},{"x":2.3,"y":0.052},{"x":2.45,"y":0.007},{"x":2.5,"y":0.0},{"x":2.6,"y":0.002},{"x":1.4,"y":0.122},{"x":1.25,"y":0.108},{"x":2.0,"y":0.1},
    {"x":2.8,"y":-0.02},{"x":2.8,"y":-0.03},{"x":2.85,"y":-0.04},{"x":2.9,"y":-0.045},{"x":2.9,"y":-0.06},{"x":2.95,"y":-0.035},{"x":3.0,"y":-0.075},{"x":3.0,"y":-0.05},{"x":3.05,"y":-0.042},{"x":3.1,"y":-0.01},{"x":3.1,"y":-0.018},{"x":3.15,"y":-0.055},{"x":3.2,"y":-0.04},{"x":3.25,"y":-0.07},{"x":3.3,"y":-0.095},{"x":3.3,"y":-0.05},{"x":3.35,"y":-0.03},{"x":3.4,"y":-0.09},{"x":3.45,"y":-0.06},{"x":3.5,"y":-0.04},{"x":3.5,"y":-0.085},{"x":3.6,"y":-0.045},{"x":3.65,"y":-0.105},{"x":3.7,"y":-0.065},{"x":3.75,"y":-0.05},{"x":3.8,"y":-0.095},{"x":3.9,"y":-0.055},{"x":3.9,"y":-0.035},{"x":3.95,"y":-0.065},{"x":4.0,"y":-0.06},{"x":4.05,"y":-0.03},{"x":4.1,"y":-0.097},{"x":4.15,"y":-0.05},{"x":4.2,"y":-0.07},{"x":4.3,"y":-0.045},{"x":4.3,"y":-0.082},{"x":4.4,"y":-0.06},{"x":4.45,"y":-0.075},{"x":4.5,"y":-0.065},{"x":4.55,"y":-0.085},{"x":4.6,"y":-0.055},{"x":4.7,"y":-0.04},{"x":4.7,"y":-0.078},{"x":4.8,"y":-0.09},{"x":4.9,"y":-0.06},{"x":5.0,"y":-0.097},{"x":5.1,"y":-0.063},{"x":5.15,"y":-0.11},{"x":5.2,"y":-0.075},{"x":5.25,"y":-0.12},{"x":5.3,"y":-0.07},{"x":5.4,"y":-0.087},{"x":5.5,"y":-0.095},{"x":5.6,"y":-0.105},{"x":5.7,"y":-0.088},{"x":5.9,"y":-0.122},{"x":6.0,"y":-0.078},{"x":6.05,"y":-0.086},{"x":6.35,"y":-0.088},{"x":6.5,"y":-0.1},{"x":6.6,"y":-0.095},{"x":6.7,"y":-0.115},{"x":6.9,"y":-0.095},{"x":7.2,"y":-0.083},{"x":7.25,"y":-0.108},{"x":7.5,"y":-0.092},{"x":7.85,"y":-0.083},{"x":8.75,"y":-0.127},{"x":9.0,"y":-0.069},{"x":9.15,"y":-0.095},{"x":9.25,"y":-0.076},{"x":10.1,"y":-0.1},{"x":10.45,"y":-0.093},{"x":11.1,"y":-0.1},{"x":11.1,"y":-0.108},{"x":11.35,"y":-0.078},{"x":12.65,"y":-0.054},{"x":13.6,"y":-0.101},{"x":14.25,"y":-0.047},{"x":3.2,"y":-0.025},{"x":3.6,"y":-0.06},{"x":4.0,"y":-0.045},{"x":4.25,"y":-0.09},{"x":4.65,"y":-0.07},{"x":2.95,"y":-0.065},{"x":3.45,"y":-0.08}
  ],
  "sbp": [
    {"x":93,"y":0.209},{"x":93,"y":0.14},{"x":93,"y":0.136},{"x":98,"y":0.082},{"x":101,"y":0.084},{"x":103,"y":0.078},{"x":104,"y":0.103},{"x":106,"y":0.121},{"x":108,"y":0.18},{"x":109,"y":0.108},{"x":110,"y":0.057},{"x":112,"y":0.084},{"x":113,"y":0.102},{"x":114,"y":0.186},{"x":114,"y":0.131},{"x":114,"y":0.075},{"x":115,"y":0.097},{"x":116,"y":0.095},{"x":117,"y":0.085},{"x":117,"y":0.078},{"x":118,"y":0.138},{"x":118,"y":0.097},{"x":119,"y":0.09},{"x":120,"y":0.07},{"x":120,"y":0.053},{"x":121,"y":0.088},{"x":122,"y":0.068},{"x":123,"y":0.08},{"x":123,"y":0.07},{"x":124,"y":0.033},{"x":124,"y":0.06},{"x":125,"y":0.026},{"x":125,"y":0.075},{"x":126,"y":0.05},{"x":126,"y":0.04},{"x":127,"y":0.068},{"x":127,"y":0.06},{"x":128,"y":0.085},{"x":128,"y":0.045},{"x":129,"y":0.055},{"x":129,"y":0.03},{"x":130,"y":0.07},{"x":130,"y":0.048},{"x":131,"y":0.02},{"x":131,"y":0.058},{"x":132,"y":0.05},{"x":132,"y":0.038},{"x":133,"y":0.055},{"x":133,"y":0.043},{"x":134,"y":0.02},{"x":134,"y":0.06},{"x":135,"y":0.035},{"x":135,"y":0.028},{"x":135,"y":0.075},{"x":136,"y":0.045},{"x":136,"y":0.03},{"x":137,"y":0.055},{"x":137,"y":0.04},{"x":138,"y":0.02},{"x":138,"y":0.048},{"x":139,"y":0.035},{"x":140,"y":0.01},{"x":140,"y":0.025},{"x":141,"y":0.03},{"x":141,"y":0.018},{"x":142,"y":0.005},{"x":142,"y":0.015},{"x":143,"y":0.02},{"x":143,"y":0.0},{"x":144,"y":0.01},{"x":144,"y":0.03},{"x":145,"y":0.04},{"x":145,"y":0.015},{"x":146,"y":-0.005},{"x":146,"y":0.02},{"x":147,"y":0.01},{"x":147,"y":-0.02},{"x":148,"y":0.005},{"x":148,"y":0.025},{"x":149,"y":-0.01},{"x":149,"y":0.015},{"x":150,"y":-0.02},{"x":150,"y":0.0},{"x":151,"y":-0.03},{"x":151,"y":-0.005},{"x":152,"y":0.002},{"x":152,"y":-0.015},{"x":153,"y":-0.025},{"x":153,"y":-0.01},{"x":154,"y":-0.035},{"x":154,"y":-0.02},{"x":155,"y":-0.005},{"x":155,"y":-0.04},{"x":156,"y":-0.03},{"x":156,"y":-0.015},{"x":157,"y":-0.045},{"x":157,"y":-0.025},{"x":158,"y":-0.055},{"x":158,"y":-0.035},{"x":159,"y":-0.04},{"x":159,"y":-0.065},{"x":160,"y":-0.05},{"x":160,"y":-0.03},{"x":161,"y":-0.045},{"x":161,"y":-0.06},{"x":162,"y":-0.07},{"x":162,"y":-0.055},{"x":163,"y":-0.09},{"x":163,"y":-0.04},{"x":164,"y":-0.065},{"x":165,"y":-0.075},{"x":165,"y":-0.05},{"x":166,"y":-0.06},{"x":167,"y":-0.065},{"x":167,"y":-0.05},{"x":168,"y":-0.075},{"x":168,"y":-0.092},{"x":169,"y":-0.07},{"x":170,"y":-0.085},{"x":171,"y":-0.092},{"x":172,"y":-0.055},{"x":172,"y":-0.078},{"x":173,"y":-0.065},{"x":174,"y":-0.078},{"x":175,"y":-0.08},{"x":176,"y":-0.085},{"x":177,"y":-0.058},{"x":177,"y":-0.108},{"x":178,"y":-0.082},{"x":178,"y":-0.096},{"x":180,"y":-0.065},{"x":182,"y":-0.032},{"x":182,"y":-0.081},{"x":184,"y":-0.105},{"x":186,"y":-0.069},{"x":186,"y":-0.1},{"x":189,"y":-0.088},{"x":190,"y":-0.074},{"x":196,"y":-0.068},{"x":196,"y":-0.09},{"x":198,"y":-0.064},{"x":200,"y":-0.072},{"x":205,"y":-0.085}
  ],
  "pltc": [
    {"x":65,"y":0.057},{"x":80,"y":0.102},{"x":95,"y":0.028},{"x":97,"y":0.055},{"x":98,"y":0.056},{"x":113,"y":0.118},{"x":128,"y":0.038},{"x":133,"y":0.081},{"x":135,"y":0.045},{"x":140,"y":0.05},{"x":145,"y":0.055},{"x":150,"y":0.062},{"x":155,"y":0.061},{"x":160,"y":0.06},{"x":165,"y":0.048},{"x":168,"y":0.03},{"x":175,"y":0.047},{"x":190,"y":0.04},
    {"x":150,"y":0.03},{"x":155,"y":0.02},{"x":160,"y":0.025},{"x":162,"y":0.012},{"x":165,"y":0.035},{"x":170,"y":0.005},{"x":172,"y":0.02},{"x":175,"y":0.028},{"x":178,"y":0.015},{"x":180,"y":0.0},{"x":182,"y":0.01},{"x":185,"y":0.022},{"x":188,"y":-0.005},{"x":190,"y":0.015},{"x":192,"y":0.03},{"x":195,"y":0.005},{"x":198,"y":0.018},{"x":200,"y":-0.002},{"x":202,"y":0.012},{"x":205,"y":0.025},{"x":208,"y":0.0},{"x":210,"y":0.008},{"x":212,"y":0.02},{"x":215,"y":-0.008},{"x":218,"y":0.013},{"x":220,"y":0.003},{"x":222,"y":0.022},{"x":225,"y":0.01},{"x":228,"y":-0.005},{"x":230,"y":0.015},{"x":232,"y":0.006},{"x":235,"y":0.018},{"x":238,"y":-0.002},{"x":240,"y":0.01},{"x":242,"y":0.002},{"x":245,"y":0.02},{"x":248,"y":-0.01},{"x":250,"y":0.008},{"x":252,"y":0.015},{"x":255,"y":0.0},{"x":258,"y":0.012},{"x":260,"y":-0.005},{"x":262,"y":0.018},{"x":265,"y":0.005},{"x":268,"y":-0.012},{"x":270,"y":0.01},{"x":272,"y":0.015},{"x":275,"y":0.0},{"x":278,"y":0.02},{"x":280,"y":-0.008},{"x":282,"y":0.005},{"x":285,"y":-0.02},{"x":288,"y":0.012},{"x":290,"y":-0.003},{"x":292,"y":0.025},{"x":295,"y":-0.015},{"x":298,"y":0.005},{"x":300,"y":-0.01},{"x":302,"y":0.015},{"x":305,"y":-0.005},{"x":308,"y":0.02},{"x":310,"y":-0.02},{"x":312,"y":0.0},{"x":315,"y":-0.012},{"x":318,"y":-0.025},{"x":320,"y":0.019},{"x":322,"y":-0.018},{"x":325,"y":-0.03},{"x":178,"y":-0.01},{"x":185,"y":0.003},{"x":195,"y":0.025},{"x":205,"y":-0.01},{"x":215,"y":0.028},{"x":225,"y":-0.013},{"x":235,"y":0.005},{"x":245,"y":-0.003},{"x":255,"y":0.022},{"x":265,"y":-0.015},{"x":275,"y":0.012},{"x":285,"y":0.002},{"x":290,"y":-0.025},{"x":300,"y":0.01},{"x":270,"y":-0.022},{"x":280,"y":-0.027},{"x":230,"y":-0.013},{"x":200,"y":0.018},{"x":210,"y":0.03},{"x":175,"y":0.008},{"x":165,"y":0.018},{"x":160,"y":0.008},{"x":170,"y":0.02},
    {"x":318,"y":-0.037},{"x":322,"y":-0.047},{"x":327,"y":-0.04},{"x":330,"y":-0.042},{"x":335,"y":-0.055},{"x":332,"y":-0.067},{"x":360,"y":-0.071},{"x":380,"y":-0.09},{"x":385,"y":-0.08},{"x":405,"y":-0.078},{"x":415,"y":-0.076},{"x":475,"y":-0.095},{"x":478,"y":-0.097},{"x":460,"y":-0.108},{"x":462,"y":-0.113},{"x":420,"y":-0.117},{"x":355,"y":-0.125},{"x":352,"y":-0.128},{"x":365,"y":-0.12},{"x":365,"y":-0.151},{"x":390,"y":-0.162},{"x":425,"y":-0.149},{"x":420,"y":-0.195},{"x":450,"y":-0.184},{"x":557,"y":-0.151},{"x":715,"y":-0.094},{"x":1187,"y":-0.156}
  ],
  "nihss": [
    {"x":1,"y":0.365},{"x":1,"y":0.33},{"x":1,"y":0.325},{"x":1,"y":0.32},{"x":1,"y":0.315},{"x":1,"y":0.31},{"x":1,"y":0.305},{"x":1,"y":0.3},{"x":1,"y":0.29},{"x":1,"y":0.285},{"x":1,"y":0.275},{"x":1,"y":0.27},{"x":1,"y":0.265},{"x":1,"y":0.26},{"x":1,"y":0.255},{"x":1,"y":0.25},{"x":1,"y":0.245},{"x":1,"y":0.24},{"x":1,"y":0.235},{"x":1,"y":0.23},{"x":1,"y":0.225},{"x":1,"y":0.22},{"x":1,"y":0.215},{"x":1,"y":0.21},{"x":1,"y":0.205},{"x":1,"y":0.2},{"x":1,"y":0.195},{"x":1,"y":0.19},{"x":1,"y":0.185},{"x":1,"y":0.18},{"x":1,"y":0.175},{"x":1,"y":0.17},{"x":1,"y":0.165},{"x":1,"y":0.16},{"x":1,"y":0.155},
    {"x":2,"y":0.06},{"x":2,"y":0.055},{"x":2,"y":0.05},{"x":2,"y":0.045},{"x":2,"y":0.04},{"x":2,"y":0.035},{"x":2,"y":0.03},{"x":2,"y":0.025},{"x":2,"y":0.02},{"x":2,"y":0.015},{"x":2,"y":0.01},{"x":2,"y":0.005},{"x":2,"y":0.0},{"x":2,"y":-0.005},{"x":2,"y":-0.01},{"x":2,"y":-0.015},{"x":2,"y":-0.02},{"x":2,"y":-0.022},{"x":2,"y":0.052},{"x":2,"y":0.038},{"x":2,"y":0.028},{"x":2,"y":0.018},{"x":2,"y":0.008},
    {"x":3,"y":-0.075},{"x":3,"y":-0.1},{"x":3,"y":-0.105},{"x":3,"y":-0.11},{"x":3,"y":-0.115},{"x":3,"y":-0.12},{"x":3,"y":-0.125},{"x":3,"y":-0.13},{"x":3,"y":-0.135},{"x":3,"y":-0.14},{"x":3,"y":-0.145},{"x":3,"y":-0.15},{"x":3,"y":-0.155},{"x":3,"y":-0.16},{"x":3,"y":-0.165},{"x":3,"y":-0.17},{"x":3,"y":-0.175},{"x":3,"y":-0.18},{"x":3,"y":-0.19},{"x":3,"y":-0.2},{"x":3,"y":-0.205},{"x":3,"y":-0.21},{"x":3,"y":-0.215},{"x":3,"y":-0.22},{"x":3,"y":-0.225},{"x":3,"y":-0.27},
    {"x":4,"y":-0.028},{"x":4,"y":-0.045},{"x":4,"y":-0.05},{"x":4,"y":-0.058},{"x":4,"y":-0.07},{"x":4,"y":-0.08},{"x":4,"y":-0.09},{"x":4,"y":-0.1},{"x":4,"y":-0.112},{"x":4,"y":-0.118},{"x":4,"y":-0.12},
    {"x":5,"y":0.012},{"x":5,"y":-0.03},{"x":5,"y":-0.035},{"x":5,"y":-0.04},{"x":5,"y":-0.045},{"x":5,"y":-0.05},{"x":5,"y":-0.055},{"x":5,"y":-0.06},{"x":5,"y":-0.063}
  ],
  "monoc": [
    {"x":0.18,"y":-0.078},{"x":0.2,"y":-0.097},{"x":0.28,"y":-0.127},{"x":0.3,"y":-0.07},{"x":0.31,"y":-0.085},{"x":0.32,"y":-0.075},{"x":0.33,"y":-0.088},{"x":0.35,"y":-0.062},{"x":0.35,"y":-0.048},{"x":0.36,"y":-0.078},{"x":0.37,"y":-0.07},{"x":0.38,"y":-0.055},{"x":0.39,"y":-0.082},{"x":0.4,"y":-0.035},{"x":0.4,"y":-0.065},{"x":0.41,"y":-0.045},{"x":0.42,"y":-0.03},{"x":0.42,"y":-0.072},{"x":0.43,"y":-0.055},{"x":0.44,"y":-0.04},{"x":0.45,"y":-0.025},{"x":0.45,"y":-0.06},{"x":0.46,"y":-0.035},{"x":0.47,"y":-0.05},{"x":0.48,"y":-0.02},{"x":0.48,"y":-0.042},{"x":0.49,"y":-0.03},{"x":0.5,"y":-0.055},{"x":0.5,"y":-0.015},{"x":0.51,"y":-0.035},{"x":0.52,"y":-0.025},{"x":0.53,"y":-0.01},{"x":0.53,"y":-0.045},{"x":0.54,"y":-0.02},{"x":0.55,"y":-0.03},{"x":0.56,"y":-0.005},{"x":0.56,"y":-0.015},{"x":0.57,"y":-0.025},{"x":0.58,"y":-0.01},{"x":0.59,"y":0.0},{"x":0.6,"y":-0.02},{"x":0.6,"y":0.005},{"x":0.61,"y":-0.01},{"x":0.62,"y":-0.03},{"x":0.63,"y":-0.005},{"x":0.64,"y":0.0},{"x":0.65,"y":-0.015},{"x":0.66,"y":0.005},{"x":0.67,"y":-0.025},{"x":0.68,"y":-0.005},{"x":0.69,"y":0.008},{"x":0.7,"y":-0.015},{"x":0.71,"y":0.0},{"x":0.72,"y":-0.01},{"x":0.73,"y":0.01},{"x":0.74,"y":-0.02},{"x":0.75,"y":0.005},{"x":0.76,"y":0.02},{"x":0.77,"y":0.0},{"x":0.78,"y":0.015},{"x":0.79,"y":0.03},{"x":0.8,"y":0.01},{"x":0.8,"y":0.025},{"x":0.81,"y":0.018},{"x":0.82,"y":0.028},{"x":0.83,"y":0.035},{"x":0.84,"y":0.055},{"x":0.85,"y":0.07},{"x":0.86,"y":0.04},{"x":0.87,"y":0.06},{"x":0.88,"y":0.072},{"x":0.89,"y":0.085},{"x":0.9,"y":0.05},{"x":0.91,"y":0.092},{"x":0.92,"y":0.135},{"x":0.93,"y":0.085},{"x":0.94,"y":0.12},{"x":0.95,"y":0.105},{"x":0.96,"y":0.055},{"x":0.97,"y":0.05},{"x":1.0,"y":0.128},{"x":0.63,"y":-0.02},{"x":0.57,"y":0.0},{"x":0.52,"y":-0.04},{"x":0.46,"y":-0.07},{"x":0.7,"y":0.0},{"x":0.75,"y":-0.01},{"x":0.62,"y":0.0},{"x":0.66,"y":-0.012},{"x":0.4,"y":-0.05},{"x":0.38,"y":-0.04},{"x":0.55,"y":-0.05},{"x":0.6,"y":-0.035},{"x":0.72,"y":0.005},{"x":0.68,"y":0.012},{"x":0.78,"y":0.01},{"x":0.82,"y":0.0},{"x":0.85,"y":0.02},{"x":0.87,"y":0.045},{"x":0.9,"y":0.07},{"x":0.93,"y":0.1},
    {"x":1.09,"y":0.206},{"x":1.1,"y":0.188},{"x":1.11,"y":0.23},{"x":1.16,"y":0.265},{"x":1.2,"y":0.172},{"x":1.21,"y":0.137},{"x":1.21,"y":0.265},{"x":1.22,"y":0.148},{"x":1.22,"y":0.228},{"x":1.22,"y":0.22},{"x":1.24,"y":0.186},{"x":1.24,"y":0.108},{"x":1.25,"y":0.205},{"x":1.3,"y":0.21},{"x":1.32,"y":0.305},{"x":1.36,"y":0.146},{"x":1.38,"y":0.295},{"x":1.41,"y":0.275},{"x":1.41,"y":0.185},{"x":1.41,"y":0.16},{"x":1.61,"y":0.262},{"x":1.72,"y":0.284},{"x":2.0,"y":0.268},{"x":2.0,"y":0.224},{"x":2.5,"y":0.267},{"x":1.19,"y":0.17}
  ],
  "lymc": [
    {"x":0.22,"y":-0.042},{"x":0.6,"y":-0.028},{"x":0.63,"y":-0.033},{"x":0.72,"y":-0.043},{"x":0.73,"y":-0.028},{"x":0.78,"y":-0.073},{"x":0.8,"y":-0.053},{"x":0.82,"y":-0.06},{"x":0.83,"y":-0.036},{"x":0.85,"y":-0.045},{"x":0.86,"y":-0.04},{"x":0.87,"y":-0.08},{"x":0.88,"y":-0.046},{"x":0.9,"y":-0.09},{"x":0.9,"y":-0.05},{"x":0.92,"y":-0.068},{"x":0.93,"y":-0.085},{"x":0.95,"y":-0.047},{"x":0.97,"y":-0.032},{"x":0.98,"y":-0.06},{"x":1.0,"y":-0.055},{"x":1.02,"y":-0.045},{"x":1.03,"y":-0.07},{"x":1.05,"y":-0.065},{"x":1.06,"y":-0.04},{"x":1.07,"y":-0.052},{"x":1.08,"y":-0.035},{"x":1.09,"y":-0.06},{"x":1.1,"y":-0.092},{"x":1.1,"y":-0.073},{"x":1.11,"y":-0.045},{"x":1.12,"y":-0.03},{"x":1.13,"y":-0.055},{"x":1.15,"y":-0.04},{"x":1.16,"y":-0.05},{"x":1.18,"y":-0.035},{"x":1.19,"y":-0.068},{"x":1.2,"y":-0.045},{"x":1.21,"y":-0.015},{"x":1.22,"y":-0.03},{"x":1.24,"y":-0.052},{"x":1.25,"y":-0.04},{"x":1.26,"y":-0.02},{"x":1.28,"y":-0.035},{"x":1.29,"y":-0.045},{"x":1.3,"y":-0.025},{"x":1.32,"y":-0.03},{"x":1.33,"y":-0.012},{"x":1.34,"y":-0.045},{"x":1.35,"y":-0.02},{"x":1.36,"y":-0.035},{"x":1.38,"y":-0.008},{"x":1.39,"y":-0.028},{"x":1.4,"y":-0.04},{"x":1.41,"y":-0.018},{"x":1.42,"y":-0.03},{"x":1.44,"y":-0.052},{"x":1.45,"y":-0.015},{"x":1.46,"y":-0.025},{"x":1.47,"y":-0.038},{"x":1.48,"y":-0.01},{"x":1.5,"y":-0.03},{"x":1.51,"y":-0.02},{"x":1.52,"y":-0.045},{"x":1.53,"y":-0.012},{"x":1.54,"y":-0.028},{"x":1.55,"y":-0.035},{"x":1.56,"y":-0.005},{"x":1.57,"y":-0.025},{"x":1.58,"y":-0.068},{"x":1.59,"y":-0.015},{"x":1.6,"y":-0.03},{"x":1.61,"y":-0.04},{"x":1.62,"y":-0.02},{"x":1.63,"y":-0.01},{"x":1.65,"y":-0.025},{"x":1.66,"y":-0.035},{"x":1.67,"y":-0.045},{"x":1.68,"y":-0.015},{"x":1.7,"y":-0.02},{"x":1.71,"y":-0.03},{"x":1.72,"y":-0.008},{"x":1.74,"y":-0.018},{"x":1.75,"y":-0.025},{"x":1.77,"y":-0.003},{"x":1.78,"y":-0.012},{"x":1.8,"y":-0.02},{"x":1.81,"y":-0.04},{"x":1.82,"y":-0.015},{"x":1.84,"y":-0.005},{"x":1.85,"y":-0.02},{"x":1.87,"y":-0.01},{"x":1.88,"y":0.0},{"x":1.89,"y":-0.018},{"x":1.9,"y":0.007},{"x":1.91,"y":-0.012},{"x":1.92,"y":-0.022},{"x":1.94,"y":-0.005},{"x":1.95,"y":-0.015},{"x":1.96,"y":0.014},{"x":1.97,"y":-0.02},{"x":1.98,"y":-0.008},{"x":2.0,"y":0.003},{"x":2.01,"y":-0.012},{"x":2.02,"y":-0.025},{"x":2.04,"y":-0.008},{"x":2.05,"y":-0.015},{"x":2.06,"y":-0.03},{"x":2.07,"y":-0.04},{"x":2.08,"y":-0.018},{"x":2.09,"y":-0.038},{"x":2.1,"y":-0.01},{"x":2.13,"y":0.015},{"x":2.15,"y":0.005},{"x":2.18,"y":0.028},{"x":2.19,"y":0.015},{"x":2.2,"y":0.0},{"x":2.21,"y":0.042},{"x":2.23,"y":0.023},
    {"x":2.3,"y":0.07},{"x":2.31,"y":0.083},{"x":2.32,"y":0.1},{"x":2.34,"y":0.076},{"x":2.36,"y":0.078},{"x":2.37,"y":0.036},{"x":2.38,"y":0.095},{"x":2.4,"y":0.088},{"x":2.5,"y":0.1},{"x":2.53,"y":0.138},{"x":2.55,"y":0.094},{"x":2.55,"y":0.066},{"x":2.57,"y":0.075},{"x":2.6,"y":0.054},{"x":2.62,"y":0.074},{"x":2.7,"y":0.168},{"x":2.7,"y":0.113},{"x":2.75,"y":0.067},{"x":2.78,"y":0.15},{"x":2.78,"y":0.087},{"x":2.82,"y":0.108},{"x":2.85,"y":0.089},{"x":2.87,"y":0.033},{"x":2.88,"y":0.068},{"x":2.88,"y":0.102},{"x":2.9,"y":0.126},{"x":2.9,"y":0.086},{"x":2.92,"y":0.156},{"x":2.98,"y":0.067},{"x":3.0,"y":0.135},{"x":3.0,"y":0.132},{"x":3.03,"y":0.092},{"x":3.08,"y":0.08},{"x":3.1,"y":0.069},{"x":3.12,"y":0.095},{"x":3.15,"y":0.123},{"x":3.17,"y":0.12},{"x":3.2,"y":0.107},{"x":3.23,"y":0.116},{"x":3.24,"y":0.128},{"x":3.26,"y":0.114},{"x":3.29,"y":0.109},{"x":3.33,"y":0.14},{"x":3.5,"y":0.099},{"x":3.58,"y":0.104},{"x":3.8,"y":0.098},{"x":3.89,"y":0.105},{"x":4.19,"y":0.089},{"x":4.31,"y":0.117}
  ]
},
"spacing": 52,
"resolve": {"scale": {"color": "independent"}, "legend": {"color": "independent"}},
"vconcat": [
  {
    "spacing": 26,
    "resolve": {"scale": {"color": "independent"}, "legend": {"color": "independent"}},
    "hconcat": [
      {
        "width": 533, "height": 300,
        "title": {"text": "A", "dx": -18, "offset": -6},
        "data": {"name": "bars"},
        "mark": {"type": "bar", "color": "#0a6ae0"},
        "encoding": {
          "y": {"field": "feature", "type": "nominal", "sort": ["NIHSS","NLR","MonoC","mRS","SBP","LymC","PltC","Glu"], "scale": {"paddingInner": 0.3, "paddingOuter": 0.55},
                "axis": {"title": null, "labelFontSize": 13.5, "labelColor": "#333", "labelPadding": 8, "ticks": false, "domain": true, "domainColor": "#b8bcc8", "minExtent": 60, "maxExtent": 60, "titlePadding": 0}},
          "x": {"field": "value", "type": "quantitative", "scale": {"domain": [0, 0.1029], "nice": false},
                "axis": {"values": [0, 0.02, 0.04, 0.06, 0.08, 0.1], "format": ".2f", "ticks": true, "tickSize": 4, "labelFontSize": 12, "labelPadding": 2, "domainColor": "#777", "title": "mean(|SHAP value|) (average impact on model output magnitude)", "titleFontSize": 13, "titleColor": "#333", "titlePadding": 5, "grid": false}}
        }
      },
      {
        "width": 418, "height": 300,
        "title": {"text": "B", "dx": -52, "offset": -6},
        "layer": [
          {"data": {"values": [{}]}, "mark": {"type": "rule", "color": "#999999", "strokeWidth": 1}, "encoding": {"x": {"datum": 0, "type": "quantitative"}}},
          {
            "data": {"name": "swarm"},
            "transform": [
              {"bin": {"step": 0.01, "anchor": 0}, "field": "s", "as": "sbin"},
              {"window": [{"op": "row_number", "as": "r"}], "groupby": ["f", "sbin"], "sort": [{"field": "s"}]},
              {"calculate": "(datum.r % 2 == 0 ? 1 : -1) * floor(datum.r / 2) * 4", "as": "off"}
            ],
            "mark": {"type": "circle", "size": 25, "opacity": 1},
            "encoding": {
              "x": {"field": "s", "type": "quantitative", "scale": {"domain": [-0.333, 0.504], "nice": false, "zero": false},
                    "axis": {"values": [-0.3, -0.2, -0.1, 0, 0.1, 0.2, 0.3, 0.4, 0.5], "format": ".1f", "ticks": true, "tickSize": 4, "labelFontSize": 12, "labelPadding": 2, "domainColor": "#777", "grid": false, "title": "SHAP value (impact on model output)", "titleFontSize": 13, "titleColor": "#333", "titlePadding": 5}},
              "y": {"field": "f", "type": "nominal", "sort": ["NIHSS","NLR","MonoC","mRS","SBP","LymC","PltC","Glu"], "scale": {"paddingInner": 0, "paddingOuter": 0.5},
                    "axis": {"title": null, "labelFontSize": 13.5, "labelColor": "#333", "labelPadding": 24, "ticks": false, "domain": false, "grid": true, "gridColor": "#e4e4e4", "gridDash": [1, 3], "bandPosition": 0.5, "minExtent": 67, "maxExtent": 67, "titlePadding": 0}},
              "yOffset": {"field": "off", "type": "quantitative", "scale": {"domain": [-16.67, 16.67]}},
              "color": {"field": "v", "type": "quantitative",
                        "scale": {"domain": [0, 0.35, 0.55, 0.8, 1], "range": ["#0a6ef0", "#7c5cd4", "#8e2aa8", "#c8157c", "#ff0a50"]},
                        "legend": {"title": "Feature value", "orient": "right", "offset": 26, "direction": "vertical", "gradientLength": 298, "gradientThickness": 3, "gradientStrokeWidth": 0, "values": [0, 1], "labelExpr": "datum.value >= 0.5 ? 'High' : 'Low'", "labelOverlap": false, "labelFontSize": 11, "labelColor": "#444", "labelOffset": 5, "titleOrient": "right", "titleAnchor": "middle", "titleFontSize": 12, "titleFontWeight": "normal", "titleColor": "#444", "titlePadding": 8,
                                   "encode": {"title": {"update": {"angle": {"value": 270}}}}}}
            }
          }
        ]
      }
    ]
  },
  {
    "spacing": 45,
    "hconcat": [
      {
        "width": 298, "height": 267,
        "title": {"text": "C", "dx": -20, "offset": 4},
        "layer": [
          {"data": {"name": "glu"}, "mark": {"type": "circle", "size": 18, "color": "#0b6fe3", "opacity": 1},
           "encoding": {
             "x": {"field": "x", "type": "quantitative", "scale": {"domain": [1.6, 29.2], "nice": false, "zero": false}, "axis": {"values": [5, 10, 15, 20, 25], "format": "d", "grid": true, "title": "Glu"}},
             "y": {"field": "y", "type": "quantitative", "scale": {"domain": [-0.0676, 0.178], "nice": false, "zero": false}, "axis": {"values": [-0.05, 0, 0.05, 0.1, 0.15], "format": ".2f", "grid": true, "title": ["SHAP value for", "Glu"], "minExtent": 40, "maxExtent": 40, "titlePadding": 3, "labelPadding": 5}}
           }},
          {"data": {"values": [{}]}, "mark": {"type": "rule", "color": "#ef7470", "strokeWidth": 1.6}, "encoding": {"y": {"datum": 0, "type": "quantitative"}}}
        ]
      },
      {
        "width": 298, "height": 267,
        "title": {"text": "D", "dx": -20, "offset": 4},
        "layer": [
          {"data": {"name": "nlr"}, "mark": {"type": "circle", "size": 18, "color": "#0b6fe3", "opacity": 1},
           "encoding": {
             "x": {"field": "x", "type": "quantitative", "scale": {"domain": [0.0, 14.9], "nice": false, "zero": false}, "axis": {"values": [2, 4, 6, 8, 10, 12, 14], "format": "d", "grid": true, "title": "NLR"}},
             "y": {"field": "y", "type": "quantitative", "scale": {"domain": [-0.142, 0.189], "nice": false, "zero": false}, "axis": {"values": [-0.1, -0.05, 0, 0.05, 0.1, 0.15], "format": ".2f", "grid": true, "title": ["SHAP value for", "NLR"], "minExtent": 40, "maxExtent": 40, "titlePadding": 3, "labelPadding": 5}}
           }},
          {"data": {"values": [{}]}, "mark": {"type": "rule", "color": "#ef7470", "strokeWidth": 1.6}, "encoding": {"y": {"datum": 0, "type": "quantitative"}}}
        ]
      },
      {
        "width": 298, "height": 267,
        "title": {"text": "E", "dx": -19, "offset": 4},
        "layer": [
          {"data": {"name": "sbp"}, "mark": {"type": "circle", "size": 18, "color": "#0b6fe3", "opacity": 1},
           "encoding": {
             "x": {"field": "x", "type": "quantitative", "scale": {"domain": [87.3, 210.5], "nice": false, "zero": false}, "axis": {"values": [100, 120, 140, 160, 180, 200], "format": "d", "grid": true, "title": "SBP"}},
             "y": {"field": "y", "type": "quantitative", "scale": {"domain": [-0.124, 0.226], "nice": false, "zero": false}, "axis": {"values": [-0.1, -0.05, 0, 0.05, 0.1, 0.15, 0.2], "format": ".2f", "grid": true, "title": ["SHAP value for", "SBP"], "minExtent": 40, "maxExtent": 40, "titlePadding": 3, "labelPadding": 5}}
           }},
          {"data": {"values": [{}]}, "mark": {"type": "rule", "color": "#ef7470", "strokeWidth": 1.6}, "encoding": {"y": {"datum": 0, "type": "quantitative"}}}
        ]
      }
    ]
  },
  {
    "spacing": 45,
    "hconcat": [
      {
        "width": 298, "height": 263,
        "title": {"text": "F", "dx": -20, "offset": 4},
        "layer": [
          {"data": {"name": "pltc"}, "mark": {"type": "circle", "size": 18, "color": "#0b6fe3", "opacity": 1},
           "encoding": {
             "x": {"field": "x", "type": "quantitative", "scale": {"domain": [11, 1240], "nice": false, "zero": false}, "axis": {"values": [200, 400, 600, 800, 1000, 1200], "format": "d", "grid": true, "title": "PltC"}},
             "y": {"field": "y", "type": "quantitative", "scale": {"domain": [-0.209, 0.134], "nice": false, "zero": false}, "axis": {"values": [-0.2, -0.15, -0.1, -0.05, 0, 0.05, 0.1], "format": ".2f", "grid": true, "title": ["SHAP value for", "PltC"], "minExtent": 40, "maxExtent": 40, "titlePadding": 3, "labelPadding": 5}}
           }},
          {"data": {"values": [{}]}, "mark": {"type": "rule", "color": "#ef7470", "strokeWidth": 1.6}, "encoding": {"y": {"datum": 0, "type": "quantitative"}}}
        ]
      },
      {
        "width": 298, "height": 263,
        "title": {"text": "G", "dx": -20, "offset": 4},
        "layer": [
          {"data": {"name": "nihss"}, "mark": {"type": "circle", "size": 18, "color": "#0b6fe3", "opacity": 1},
           "encoding": {
             "x": {"field": "x", "type": "quantitative", "scale": {"domain": [0.8, 5.21], "nice": false, "zero": false}, "axis": {"values": [1, 1.5, 2, 2.5, 3, 3.5, 4, 4.5, 5], "format": ".1f", "grid": true, "title": "NIHSS"}},
             "y": {"field": "y", "type": "quantitative", "scale": {"domain": [-0.302, 0.395], "nice": false, "zero": false}, "axis": {"values": [-0.3, -0.2, -0.1, 0, 0.1, 0.2, 0.3], "format": ".1f", "grid": true, "title": ["SHAP value for", "NIHSS"], "minExtent": 40, "maxExtent": 40, "titlePadding": 3, "labelPadding": 5}}
           }},
          {"data": {"values": [{}]}, "mark": {"type": "rule", "color": "#ef7470", "strokeWidth": 1.6}, "encoding": {"y": {"datum": 0, "type": "quantitative"}}}
        ]
      },
      {
        "width": 298, "height": 263,
        "title": {"text": "H", "dx": -19, "offset": 4},
        "layer": [
          {"data": {"name": "monoc"}, "mark": {"type": "circle", "size": 18, "color": "#0b6fe3", "opacity": 1},
           "encoding": {
             "x": {"field": "x", "type": "quantitative", "scale": {"domain": [0.075, 2.617], "nice": false, "zero": false}, "axis": {"values": [0.5, 1, 1.5, 2, 2.5], "format": ".1f", "grid": true, "title": "MonoC"}},
             "y": {"field": "y", "type": "quantitative", "scale": {"domain": [-0.148, 0.323], "nice": false, "zero": false}, "axis": {"values": [-0.1, 0, 0.1, 0.2, 0.3], "format": ".1f", "grid": true, "title": ["SHAP value for", "MonoC"], "minExtent": 40, "maxExtent": 40, "titlePadding": 3, "labelPadding": 5}}
           }},
          {"data": {"values": [{}]}, "mark": {"type": "rule", "color": "#ef7470", "strokeWidth": 1.6}, "encoding": {"y": {"datum": 0, "type": "quantitative"}}}
        ]
      }
    ]
  },
  {
    "spacing": 48,
    "hconcat": [
      {
        "width": 300, "height": 265,
        "title": {"text": "I", "dx": -20, "offset": 4},
        "layer": [
          {"data": {"name": "pltc"}, "mark": {"type": "circle", "size": 18, "color": "#0b6fe3", "opacity": 1},
           "encoding": {
             "x": {"field": "x", "type": "quantitative", "scale": {"domain": [16, 1240], "nice": false, "zero": false}, "axis": {"values": [200, 400, 600, 800, 1000, 1200], "format": "d", "grid": true, "title": "PltC"}},
             "y": {"field": "y", "type": "quantitative", "scale": {"domain": [-0.21, 0.133], "nice": false, "zero": false}, "axis": {"values": [-0.2, -0.15, -0.1, -0.05, 0, 0.05, 0.1], "format": ".2f", "grid": true, "title": ["SHAP value for", "PltC"], "minExtent": 40, "maxExtent": 40, "titlePadding": 3, "labelPadding": 5}}
           }},
          {"data": {"values": [{}]}, "mark": {"type": "rule", "color": "#ef7470", "strokeWidth": 1.6}, "encoding": {"y": {"datum": 0, "type": "quantitative"}}}
        ]
      },
      {
        "width": 300, "height": 265,
        "title": {"text": "J", "dx": -20, "offset": 4},
        "layer": [
          {"data": {"name": "lymc"}, "mark": {"type": "circle", "size": 18, "color": "#0b6fe3", "opacity": 1},
           "encoding": {
             "x": {"field": "x", "type": "quantitative", "scale": {"domain": [0, 4.515], "nice": false, "zero": false}, "axis": {"values": [0, 1, 2, 3, 4], "format": "d", "grid": true, "title": "LymC"}},
             "y": {"field": "y", "type": "quantitative", "scale": {"domain": [-0.104, 0.181], "nice": false, "zero": false}, "axis": {"values": [-0.1, -0.05, 0, 0.05, 0.1, 0.15], "format": ".2f", "grid": true, "title": ["SHAP value for", "LymC"], "minExtent": 40, "maxExtent": 40, "titlePadding": 3, "labelPadding": 5}}
           }},
          {"data": {"values": [{}]}, "mark": {"type": "rule", "color": "#ef7470", "strokeWidth": 1.6}, "encoding": {"y": {"datum": 0, "type": "quantitative"}}}
        ]
      }
    ]
  }
]
}
